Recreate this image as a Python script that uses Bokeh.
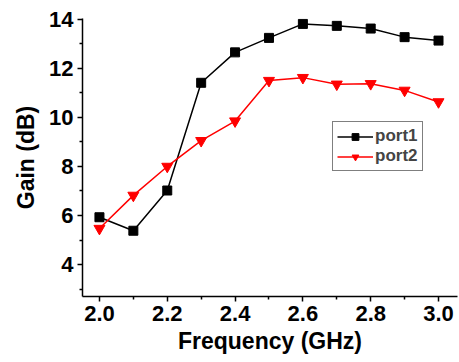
from bokeh.plotting import figure
from bokeh.models import Legend, LegendItem, Range1d, FixedTicker
from bokeh.embed import file_html
from bokeh.resources import INLINE

freq = [2.0, 2.1, 2.2, 2.3, 2.4, 2.5, 2.6, 2.7, 2.8, 2.9, 3.0]
port1 = [5.93, 5.38, 7.02, 11.41, 12.65, 13.24, 13.81, 13.73, 13.62, 13.27, 13.13]
port2 = [5.47, 6.82, 8.0, 9.05, 9.85, 11.5, 11.62, 11.35, 11.37, 11.1, 10.63]
x_ticks = [2.0, 2.2, 2.4, 2.6, 2.8, 3.0]
y_ticks = [4, 6, 8, 10, 12, 14]

FONT = "Liberation Sans"

p = figure(width=459, height=362, output_backend="svg", toolbar_location=None,
           x_range=Range1d(1.95, 3.056), y_range=Range1d(2.7, 14.03),
           min_border_left=82, min_border_right=2, min_border_top=18, min_border_bottom=66)
p.outline_line_color = None
p.grid.visible = False
p.background_fill_color = "white"

for ax in (p.xaxis[0], p.yaxis[0]):
    ax.axis_line_color = "black"
    ax.axis_line_width = 1.5
    ax.major_tick_line_color = "black"
    ax.major_tick_line_width = 1.5
    ax.minor_tick_line_color = "black"
    ax.minor_tick_line_width = 1.5
    ax.major_tick_out = 5
    ax.major_tick_in = 0
    ax.minor_tick_out = 3
    ax.minor_tick_in = 0
    ax.major_label_text_font = FONT
    ax.major_label_text_font_style = "bold"
    ax.major_label_text_font_size = "22px"
    ax.major_label_text_color = "black"
    ax.axis_label_text_font = FONT
    ax.axis_label_text_font_style = "bold"
    ax.axis_label_text_font_size = "23px"
    ax.axis_label_text_color = "black"

p.xaxis.ticker = FixedTicker(ticks=x_ticks, minor_ticks=[2.1, 2.3, 2.5, 2.7, 2.9])
p.yaxis.ticker = FixedTicker(ticks=y_ticks, minor_ticks=[3, 5, 7, 9, 11, 13])
p.xaxis.major_label_overrides = {t: f"{t:.1f}" for t in x_ticks}
p.xaxis.axis_label = "Frequency (GHz)"
p.yaxis.axis_label = "Gain (dB)"
p.xaxis.major_label_standoff = 4
p.yaxis.major_label_standoff = 4
p.xaxis.axis_label_standoff = 4
p.yaxis.axis_label_standoff = 7

l1 = p.line(freq, port1, line_color="black", line_width=1.5)
m1 = p.scatter(freq, port1, marker="square", size=9, fill_color="black", line_color="black")
l2 = p.line(freq, port2, line_color="red", line_width=1.5)
m2 = p.scatter(freq, port2, marker="inverted_triangle", size=11, fill_color="red", line_color="red")

legend = Legend(items=[LegendItem(label="port1", renderers=[l1, m1]),
                       LegendItem(label="port2", renderers=[l2, m2])],
                location=(250, 125))
legend.border_line_color = "black"
legend.border_line_width = 1
legend.background_fill_alpha = 1
legend.label_text_font = FONT
legend.label_text_font_style = "bold"
legend.label_text_font_size = "17px"
legend.glyph_width = 36
legend.glyph_height = 17
legend.label_height = 17
legend.label_standoff = 2
legend.padding = 4
legend.spacing = 0
legend.margin = 0
p.add_layout(legend)

open("out.html", "w").write(file_html(p, INLINE))
